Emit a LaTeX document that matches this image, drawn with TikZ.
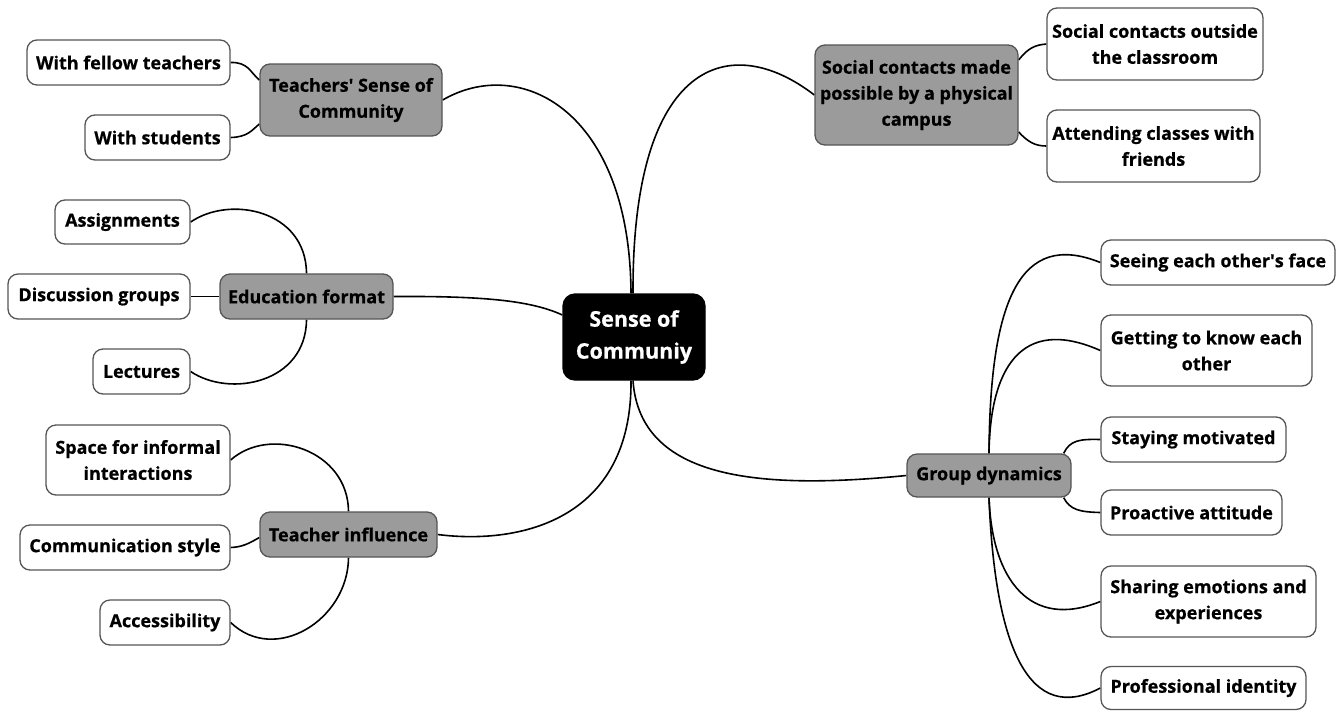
\documentclass[tikz,border=0pt]{standalone}
\usepackage{fontspec}
\setmainfont{Open Sans}[BoldFeatures={FakeBold=0.6}]
\usetikzlibrary{backgrounds,calc}
\definecolor{midgray}{RGB}{155,155,155}
\definecolor{edgegray}{RGB}{85,85,85}
\tikzset{
  sz/.style 2 args={minimum width=#1pt,minimum height=#2pt},
  leaf/.style={draw=edgegray,line width=1.3pt,rounded corners=10pt,fill=white,
    font=\fontsize{18}{26}\selectfont\bfseries,align=center,inner sep=0pt},
  mid/.style={leaf,fill=midgray},
  rootbox/.style={draw=black,line width=1.3pt,rounded corners=12pt,fill=black,text=white,
    font=\fontsize{21.5}{32}\selectfont\bfseries,align=center,inner sep=0pt},
  link/.style={draw=black,line width=1.6pt}
}
\begin{document}
\begin{tikzpicture}[x=1pt,y=-1pt]
\useasboundingbox (0,0) rectangle (1343,710);
% nodes
\node[leaf,sz={203}{45}] (wft) at (128.5,62.5) {With fellow teachers};
\node[leaf,sz={145}{45}] (wst) at (157.5,137.5) {With students};
\node[mid,sz={182}{72}] (tsc) at (351,100) {Teachers\textquotesingle\ Sense of\\Community};
\node[mid,sz={203}{100}] (scm) at (916.5,95) {Social contacts made\\possible by a physical\\campus};
\node[leaf,sz={216}{72}] (sco) at (1155,44) {Social contacts outside\\the classroom};
\node[leaf,sz={213}{72}] (acf) at (1153.5,146) {Attending classes with\\friends};
\node[leaf,sz={135}{44}] (asg) at (122.5,222) {Assignments};
\node[leaf,sz={182}{45}] (dsg) at (99,296.5) {Discussion groups};
\node[mid,sz={173}{45}] (edf) at (306.5,296.5) {Education format};
\node[leaf,sz={97}{45}] (lec) at (141.5,371.5) {Lectures};
\node[rootbox,sz={142}{86}] (root) at (634,337) {Sense of\\Communiy};
\node[leaf,sz={184}{70}] (sfi) at (138,460) {Space for informal\\interactions};
\node[leaf,sz={210}{45}] (cms) at (125,547.5) {Communication style};
\node[mid,sz={177}{45}] (tin) at (348.5,534.5) {Teacher influence};
\node[leaf,sz={130}{45}] (acc) at (165,622.5) {Accessibility};
\node[leaf,sz={234}{45}] (see) at (1218,262.5) {Seeing each other\textquotesingle s face};
\node[leaf,sz={211}{71}] (get) at (1206.5,350.5) {Getting to know each\\other};
\node[leaf,sz={185}{45}] (sta) at (1193.5,439.5) {Staying motivated};
\node[mid,sz={164}{43}] (grp) at (989,475.5) {Group dynamics};
\node[leaf,sz={181}{45}] (pro) at (1191.5,512.5) {Proactive attitude};
\node[leaf,sz={215}{71}] (sha) at (1208.5,601.5) {Sharing emotions and\\experiences};
\node[leaf,sz={205}{43}] (prf) at (1203.5,688) {Professional identity};
% connectors
\begin{scope}[on background layer]
\draw[link] ($(root.north)+(-3,0)$) .. controls (630,110) and (520,55) .. (tsc.east);
\draw[link] ($(root.north)+(-1,0)$) .. controls (632,60) and (730,30) .. (scm.west);
\draw[link] ($(root.west)+(0,-22)$) .. controls (530,300) and (480,296) .. (edf.east);
\draw[link] ($(root.south)+(-3,0)$) .. controls (632,520) and (520,545) .. (tin.east);
\draw[link] ($(root.south)+(-1,0)$) .. controls (640,480) and (760,490) .. (grp.west);
% teachers' sense
\draw[link] ($(tsc.west)+(0,-20)$) .. controls (250,72) and (248,62) .. (wft.east);
\draw[link] ($(tsc.west)+(0,24)$) .. controls (252,130) and (248,137) .. (wst.east);
% campus
\draw[link] ($(scm.east)+(0,-35)$) .. controls (1028,48) and (1035,45) .. (sco.west);
\draw[link] ($(scm.east)+(0,37)$) .. controls (1028,142) and (1035,146) .. (acf.west);
% education format
\draw[link] (edf.north) .. controls (306,210) and (230,195) .. (asg.east);
\draw[link] (edf.west) -- (dsg.east);
\draw[link] (edf.south) .. controls (306,383) and (230,398) .. (lec.east);
% teacher influence
\draw[link] (tin.north) .. controls (348,450) and (270,425) .. (sfi.east);
\draw[link] ($(tin.west)+(0,3)$) .. controls (248,544) and (242,547) .. (cms.east);
\draw[link] (tin.south) .. controls (348,620) and (275,665) .. (acc.east);
% group dynamics
\draw[link] (grp.north) .. controls (990,300) and (1020,230) .. (see.west);
\draw[link] (grp.north) .. controls (990,370) and (1020,315) .. (get.west);
\draw[link] ($(grp.north east)+(-8,0)$) .. controls (1070,440) and (1080,439) .. (sta.west);
\draw[link] ($(grp.south east)+(-8,0)$) .. controls (1070,510) and (1080,512) .. (pro.west);
\draw[link] (grp.south) .. controls (992,580) and (1030,630) .. (sha.west);
\draw[link] (grp.south) .. controls (995,650) and (1030,725) .. (prf.west);
\end{scope}
\end{tikzpicture}
\end{document}
